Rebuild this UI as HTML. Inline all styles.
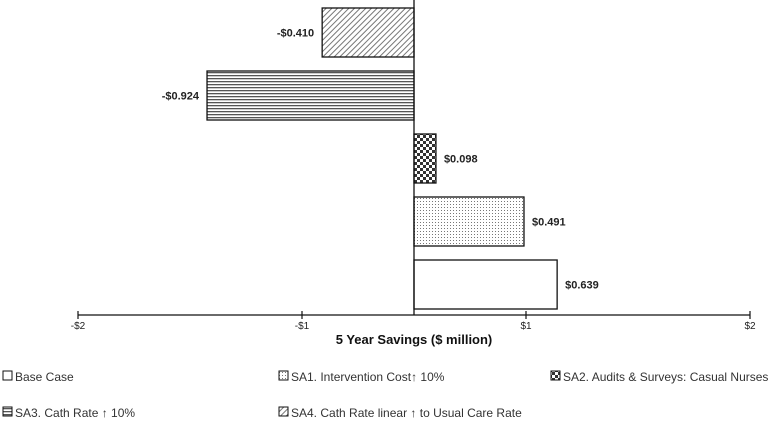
<!DOCTYPE html>
<html><head><meta charset="utf-8"><style>
body{margin:0;background:#fff;width:780px;height:419px;overflow:hidden;font-family:"Liberation Sans",sans-serif}
</style></head><body>
<svg id="chart" width="780" height="419" xmlns="http://www.w3.org/2000/svg">
<defs>
<pattern id="p-sa1" patternUnits="userSpaceOnUse" width="3" height="3"><rect width="3" height="3" fill="#fff"/><rect width="1" height="1" fill="#777"/></pattern>
<pattern id="p-sa2" patternUnits="userSpaceOnUse" width="6" height="6"><rect width="6" height="6" fill="#fff"/><rect width="3" height="3" fill="#333"/><rect x="3" y="3" width="3" height="3" fill="#333"/></pattern>
<pattern id="p-sa3" patternUnits="userSpaceOnUse" width="4" height="3"><rect width="4" height="3" fill="#fff"/><rect width="4" height="1.3" fill="#555"/></pattern>
<pattern id="p-sa4" patternUnits="userSpaceOnUse" width="4" height="4" patternTransform="rotate(45)"><rect width="4" height="4" fill="#fff"/><rect width="1" height="4" fill="#777"/></pattern>
</defs>
<g id="bars"></g>
<g id="axis"></g>
</svg>
<script>
const categories = ['SA4. Cath Rate linear ↑ to Usual Care Rate','SA3. Cath Rate ↑ 10%','SA2. Audits & Surveys: Casual Nurses','SA1. Intervention Cost↑ 10%','Base Case'];
const values = [-0.410,-0.924,0.098,0.491,0.639];
const valueLabels = ['-$0.410','-$0.924','$0.098','$0.491','$0.639'];
const patterns = ['url(#p-sa4)','url(#p-sa3)','url(#p-sa2)','url(#p-sa1)','#fff'];
const tickValues = [-1.5,-0.5,0.5,1.5];
const tickLabels = ['-$2','-$1','$1','$2'];
const NS='http://www.w3.org/2000/svg';
const x0=414, scale=224, top0=8, step=63, bh=49, axisY=315;
const xs=v=>x0+v*scale;
const ys=i=>top0+i*step;
function mk(tag,attrs,parent){const e=document.createElementNS(NS,tag);for(const k in attrs)e.setAttribute(k,attrs[k]);parent.appendChild(e);return e;}
const bars=document.getElementById('bars'), axis=document.getElementById('axis');
values.forEach((v,i)=>{
  const x=Math.min(xs(0),xs(v)), w=Math.abs(xs(v)-xs(0));
  const r=mk('rect',{x:x,y:ys(i),width:w,height:bh,fill:patterns[i],stroke:'#111','stroke-width':1.3},bars);
  
  
  const t=mk('text',{x:v<0?xs(v)-8:xs(v)+8,y:ys(i)+bh/2+4,'text-anchor':v<0?'end':'start','font-size':11,'font-weight':'bold',fill:'#222'},bars);
  t.textContent=valueLabels[i];
  
  
});
const zl=mk('line',{x1:xs(0),x2:xs(0),y1:0,y2:axisY,stroke:'#111','stroke-width':1.3},axis);


const al=mk('line',{x1:xs(tickValues[0]),x2:xs(tickValues[3]),y1:axisY,y2:axisY,stroke:'#111','stroke-width':1.3},axis);


tickValues.forEach((tv,i)=>{
  mk('line',{x1:xs(tv),x2:xs(tv),y1:axisY-4,y2:axisY+4,stroke:'#111','stroke-width':1.2},axis);
  const t=mk('text',{x:xs(tv),y:axisY+14,'text-anchor':'middle','font-size':10,fill:'#222'},axis);
  t.textContent=tickLabels[i];
  
  
});
const ti=mk('text',{x:xs(0),y:axisY+29,'text-anchor':'middle','font-size':13,'font-weight':'bold',fill:'#111'},axis);
ti.textContent='5 Year Savings ($ million)';


const legendOrder=[4,3,2,1,0];
const legPos=[[3,381],[279,381],[551,381],[3,417],[279,417]];
legendOrder.forEach((ci,k)=>{
  const [lx,ly]=legPos[k];
  const g=mk('g',{},axis);
  
  
  mk('rect',{x:lx,y:ly-10,width:9,height:9,fill:patterns[ci],stroke:'#111','stroke-width':1},g);
  const t=mk('text',{x:lx+12,y:ly,'font-size':12,fill:'#333'},g);
  t.textContent=categories[ci];
});
</script>
</body></html>
